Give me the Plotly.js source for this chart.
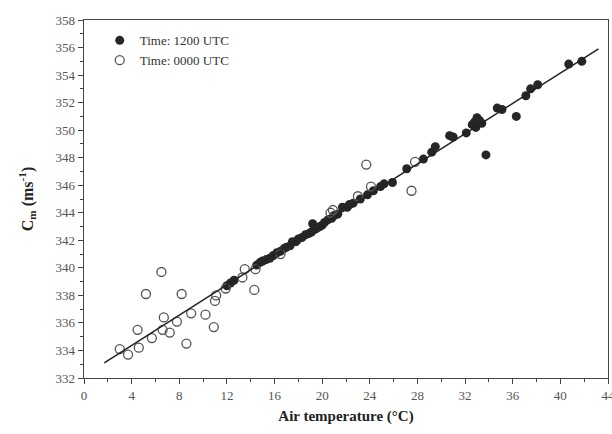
<!DOCTYPE html>
<html>
<head>
<meta charset="utf-8">
<script src="https://cdn.plot.ly/plotly-3.0.1.min.js"></script>
<style>html,body{margin:0;padding:0;background:#fff;}#chart{width:612px;height:434px;}</style>
</head>
<body>
<div id="chart"></div>
<script>
// Time: 1200 UTC (filled)
const dayTemp = [12.0,12.3,12.6,14.5,14.8,15.0,15.3,15.6,15.9,16.2,16.5,16.8,17.0,17.3,17.5,17.8,18.0,18.3,18.6,18.9,19.1,19.2,19.4,19.6,19.8,20.0,20.2,20.5,20.8,21.0,21.3,21.7,22.1,22.3,22.6,23.2,23.8,24.3,24.9,25.2,25.9,27.1,28.5,29.2,29.5,30.7,31.0,32.1,32.6,32.8,33.0,33.2,33.4,32.9,33.75,34.7,35.1,36.3,37.1,37.5,38.1,40.7,41.8];
const dayC    = [338.7,338.9,339.1,340.2,340.4,340.5,340.6,340.7,340.9,341.1,341.2,341.4,341.5,341.6,341.9,341.9,342.1,342.2,342.4,342.5,342.6,343.2,342.8,342.9,343.0,343.1,343.3,343.5,343.6,343.8,343.9,344.4,344.4,344.6,344.7,345.0,345.3,345.6,345.9,346.1,346.2,347.2,347.9,348.4,348.8,349.6,349.5,349.8,350.4,350.6,350.9,350.7,350.5,350.2,348.2,351.6,351.5,351.0,352.5,353.0,353.3,354.8,355.0];
// Time: 0000 UTC (open)
const nightTemp = [3.0,3.7,4.5,4.6,5.2,5.7,6.5,6.7,6.6,7.2,7.8,8.2,8.6,9.0,10.2,10.9,11.0,11.1,11.9,13.3,13.5,14.3,14.4,16.5,20.7,20.9,23.0,23.7,24.1,27.5,27.8];
const nightC    = [334.1,333.7,335.5,334.2,338.1,334.9,339.7,336.4,335.5,335.3,336.1,338.1,334.5,336.7,336.6,335.7,337.6,338.0,338.5,339.3,339.9,338.4,339.9,341.0,344.0,344.2,345.2,347.5,345.9,345.6,347.7];
// Regression line end points
const fitTemp = [1.7, 43.2];
const fitC    = [333.1, 355.9];

const serif = "Liberation Serif, Times New Roman, serif";
const traces = [
  {x: dayTemp, y: dayC, type: 'scatter', mode: 'markers', name: 'Time: 1200 UTC',
   marker: {symbol: 'circle', size: 9, color: '#262626', line: {width: 0}}},
  {x: nightTemp, y: nightC, type: 'scatter', mode: 'markers', name: 'Time: 0000 UTC',
   marker: {symbol: 'circle-open', size: 9, color: '#555', line: {width: 1.3, color: '#555'}}},
  {x: fitTemp, y: fitC, type: 'scatter', mode: 'lines', showlegend: false,
   line: {color: '#222', width: 1.5}}
];
const layout = {
  width: 612, height: 434,
  margin: {l: 84, r: 4, t: 20, b: 56},
  paper_bgcolor: '#fff', plot_bgcolor: '#fff',
  font: {family: serif, color: '#333', size: 13},
  showlegend: true,
  legend: {x: 0.03, y: 0.985, xanchor: 'left', yanchor: 'top', bgcolor: 'rgba(0,0,0,0)',
           font: {family: serif, size: 13, color: '#333'}, itemwidth: 30, tracegroupgap: 0},
  xaxis: {range: [0, 44], dtick: 4, tick0: 0, ticks: 'outside', ticklen: 5, tickwidth: 1,
          minor: {dtick: 2, ticks: 'outside', ticklen: 3}, ticklabeloverflow: 'allow',
          showline: true, linecolor: '#444', linewidth: 1.3, mirror: true, showgrid: false, zeroline: false,
          tickfont: {family: serif, size: 13, color: '#555'},
          title: {text: '<b>Air temperature (°C)</b>', font: {family: serif, size: 15, color: '#222'}, standoff: 8}},
  yaxis: {range: [332, 358], dtick: 2, tick0: 332, ticks: 'outside', ticklen: 5, tickwidth: 1,
          minor: {dtick: 1, ticks: 'outside', ticklen: 3},
          showline: true, linecolor: '#444', linewidth: 1.3, mirror: true, showgrid: false, zeroline: false,
          tickfont: {family: serif, size: 13, color: '#555'},
          title: {text: '<b>C<sub>m</sub> (ms<sup>-1</sup>)</b>', font: {family: serif, size: 16, color: '#222'}, standoff: 18}}
};
Plotly.newPlot('chart', traces, layout, {displayModeBar: false, staticPlot: true});
</script>
</body>
</html>
